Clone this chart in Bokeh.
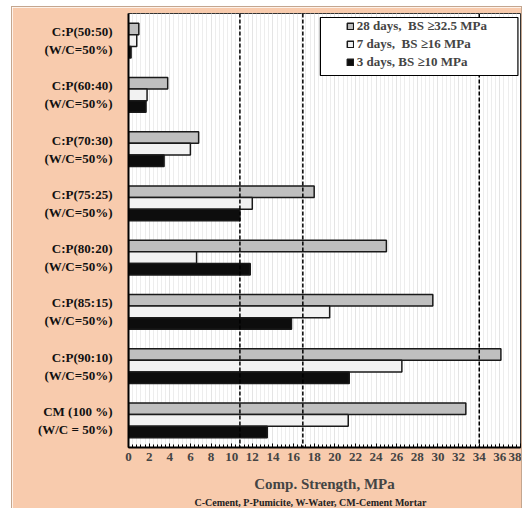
from bokeh.plotting import figure
from bokeh.models import (FactorRange, Range1d, SingleIntervalTicker, Span, BoxAnnotation,
                          Legend, LegendItem, Title, ColumnDataSource)
from bokeh.transform import dodge
from bokeh.embed import file_html
from bokeh.resources import INLINE

# ---- data ----
categories = [
    "C:P(50:50)\n(W/C=50%)",
    "C:P(60:40)\n(W/C=50%)",
    "C:P(70:30)\n(W/C=50%)",
    "C:P(75:25)\n(W/C=50%)",
    "C:P(80:20)\n(W/C=50%)",
    "C:P(85:15)\n(W/C=50%)",
    "C:P(90:10)\n(W/C=50%)",
    "CM (100 %)\n(W/C = 50%)",
]
strength_28d = [1.0, 3.8, 6.8, 18.0, 25.0, 29.5, 36.1, 32.7]
strength_7d = [0.8, 1.8, 6.0, 12.0, 6.6, 19.5, 26.5, 21.3]
strength_3d = [0.25, 1.7, 3.45, 10.8, 11.8, 15.8, 21.4, 13.45]
series_labels = ["28 days,  BS \u226532.5 MPa", "7 days,  BS \u226516 MPa", "3 days, BS \u226510 MPa"]
standard_lines = [10.8, 16.9, 34.0]
x_max = 38
axis_title = "Comp. Strength, MPa"
footnote = "C-Cement, P-Pumicite, W-Water, CM-Cement Mortar"

FONT = "Liberation Serif"
PEACH = "#F8CBAD"
W, H = 509, 501
ML, MR, MT, MB = 116, 1, 6, 61
FRAME_W = W - ML - MR
FRAME_H = H - MT - MB

src = ColumnDataSource(dict(cat=categories, d28=strength_28d, d7=strength_7d, d3=strength_3d))

p = figure(width=W, height=H,
           y_range=FactorRange(factors=categories[::-1]),
           x_range=Range1d(0, x_max),
           output_backend="svg", toolbar_location=None,
           min_border_left=ML, min_border_right=MR, min_border_top=MT, min_border_bottom=MB)
p.margin = (7, 0, 0, 12)
p.styles = {"outline": "1px solid #C4A68F"}
p.background_fill_color = "white"
p.border_fill_color = PEACH
p.outline_line_color = "#333333"
p.outline_line_width = 1

bh = 0.215
line_kw = dict(line_color="#1a1a1a", line_width=1.5)
r28 = p.hbar(y=dodge("cat", bh, range=p.y_range), left=0, right="d28", height=bh,
             source=src, fill_color="#BFBFBF", **line_kw)
r7 = p.hbar(y=dodge("cat", 0, range=p.y_range), left=0, right="d7", height=bh,
            source=src, fill_color="#F2F2F2", **line_kw)
r3 = p.hbar(y=dodge("cat", -bh, range=p.y_range), left=0, right="d3", height=bh,
            source=src, fill_color="#0D0D0D", **line_kw)

for v in standard_lines:
    p.add_layout(Span(location=v, dimension="height", line_color="black",
                      line_width=1.5, line_dash="4 2"))

# legend box (white, covers the dashed line)
unit_px = FRAME_H / len(categories)
box = BoxAnnotation(left=18.6, right=37.75, top=8 - 4 / unit_px, bottom=8 - 62 / unit_px,
                    fill_color="white", fill_alpha=1.0, line_color="black", line_width=1.2,
                    line_alpha=1.0)
p.add_layout(box)

leg_left = 21.3 * FRAME_W / x_max - 2
legend = Legend(items=[LegendItem(label=series_labels[0], renderers=[r28]),
                       LegendItem(label=series_labels[1], renderers=[r7]),
                       LegendItem(label=series_labels[2], renderers=[r3])],
                location=(leg_left, FRAME_H - 57), padding=2, spacing=2,
                label_height=15, glyph_width=8, glyph_height=8, label_standoff=3,
                border_line_color=None, background_fill_alpha=0,
                label_text_font=FONT, label_text_font_style="bold",
                label_text_font_size="13px", margin=0)
p.add_layout(legend)

# axes
p.xaxis.ticker = SingleIntervalTicker(interval=2, num_minor_ticks=5)
p.xaxis.axis_label = axis_title
p.xaxis.axis_label_text_font = FONT
p.xaxis.axis_label_text_font_style = "bold"
p.xaxis.axis_label_text_font_size = "15px"
p.xaxis.axis_label_standoff = 12
p.xaxis.major_label_text_font = FONT
p.xaxis.major_label_text_font_style = "bold"
p.xaxis.major_label_text_font_size = "13px"
p.xaxis.major_label_standoff = 5
p.xaxis.axis_line_width = 2
p.xaxis.axis_line_color = "black"
p.xaxis.major_tick_in = 4
p.xaxis.major_tick_out = 0
p.xaxis.minor_tick_in = 3
p.xaxis.minor_tick_out = 0
p.xaxis.major_tick_line_color = "black"
p.xaxis.minor_tick_line_color = "black"

p.yaxis.axis_line_width = 2
p.yaxis.axis_line_color = "black"
p.yaxis.major_tick_line_color = None
p.yaxis.minor_tick_line_color = None
p.yaxis.major_label_text_font = FONT
p.yaxis.major_label_text_font_style = "bold"
p.yaxis.major_label_text_font_size = "13px"
p.yaxis.major_label_standoff = 10
p.yaxis.major_label_text_color = "#111111"

p.xgrid.grid_line_color = "#E4E4E4"
p.xgrid.minor_grid_line_color = "#EDEDED"
p.ygrid.grid_line_color = None

p.add_layout(Title(text=footnote, align="left", offset=66, standoff=0,
                   text_font=FONT, text_font_style="bold", text_font_size="10px",
                   text_color="#222222"), "below")

open("out.html", "w").write(file_html(p, INLINE))
